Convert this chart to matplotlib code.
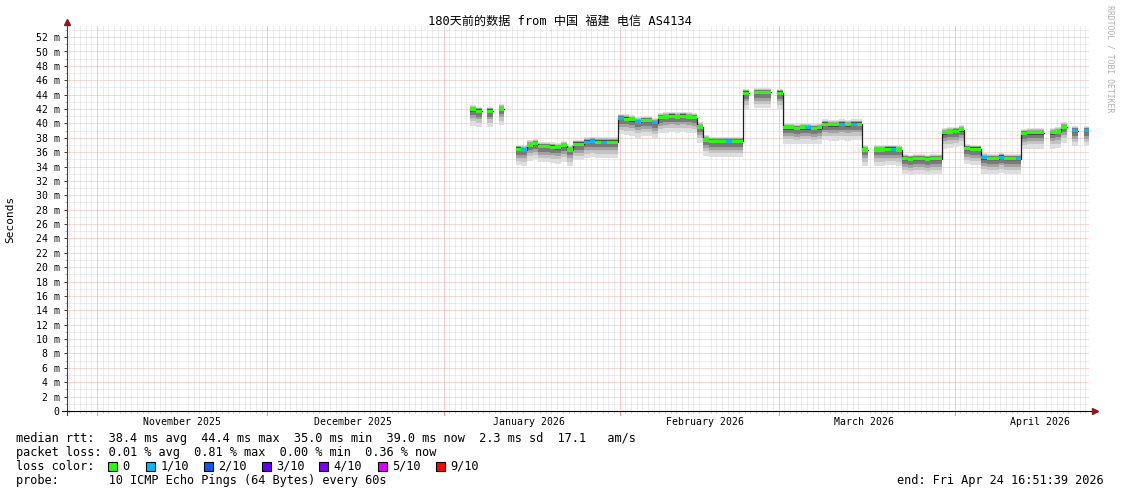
import datetime as dt
import numpy as np
import matplotlib
matplotlib.use('Agg')
import matplotlib.pyplot as plt
import matplotlib.dates as mdates
from matplotlib.ticker import MultipleLocator, FuncFormatter
from matplotlib.patches import Rectangle
from matplotlib.lines import Line2D

W, H = 1121, 494
MONO = 'DejaVu Sans Mono'

title = '180天前的数据 from 中国 福建 电信 AS4134'
start = dt.datetime(2025, 10, 26, 16, 51, 39)
end = dt.datetime(2026, 4, 24, 16, 51, 39)

# one median value per day, starting at day 71 after start (nan = no data)
first_day = 71
nan = np.nan
median_ms = [
    41.9, 41.7, nan, 41.7, nan, 42.0, nan, nan, 36.4, 36.3,   # d71-80
    37.0, 37.2, 36.8, 36.8, 36.7, 36.6, 36.9, 36.3, 37.1, 37.1,  # d81-90
    37.4, 37.5, 37.4, 37.4, 37.4, 37.4, 40.7, 40.6, 40.5, 40.2,  # d91-100
    40.4, 40.4, 40.1, 40.8, 40.9, 41.0, 40.9, 41.0, 40.9, 40.8,  # d101-110
    39.5, 37.7, 37.5, 37.5, 37.5, 37.5, 37.5, 37.5, 44.2, nan,   # d111-120
    44.3, 44.3, 44.3, nan, 44.2, 39.4, 39.4, 39.3, 39.4, 39.4,   # d121-130
    39.3, 39.4, 39.9, 39.8, 39.8, 39.9, 39.8, 39.9, 39.9, 36.3,  # d131-140
    nan, 36.3, 36.3, 36.4, 36.4, 36.3, 35.1, 35.0, 35.1, 35.1,   # d141-150
    35.0, 35.1, 35.1, 38.7, 38.8, 38.9, 39.1, 36.5, 36.4, 36.4,  # d151-160
    35.2, 35.1, 35.1, 35.3, 35.1, 35.1, 35.1, 38.6, 38.7, 38.7,  # d161-170
    38.7, nan, 38.7, 38.8, 39.5, nan, 39.0, nan, 39.0,           # d171-179
]
# loss bin per day: 0 -> no loss, 1 -> 1/10
loss_bin = [
    0, 0, 0, 0, 0, 0, 0, 0, 0, 1,
    0, 0, 0, 0, 0, 0, 0, 0, 0, 0,
    1, 1, 0, 1, 0, 0, 1, 0, 0, 1,
    0, 0, 1, 0, 0, 0, 0, 0, 0, 0,
    0, 0, 0, 0, 0, 1, 0, 0, 0, 0,
    0, 0, 0, 0, 0, 0, 0, 0, 0, 1,
    0, 0, 0, 0, 0, 1, 0, 1, 0, 0,
    0, 0, 0, 0, 1, 0, 0, 0, 0, 0,
    0, 0, 0, 0, 0, 0, 0, 0, 0, 0,
    1, 0, 0, 1, 0, 0, 1, 0, 0, 0,
    0, 0, 0, 0, 0, 0, 1, 0, 1,
]
# sorted ping offsets from the median (ms), 10 pings
ping_offsets = [-2.2, -1.6, -1.15, -0.75, -0.25, 0.25, 0.3, 0.4, 0.5, 0.65]
smoke_grays = ['#dedede', '#c4c4c4', '#a2a2a2', '#7a7a7a', '#505050']

loss_labels = ['0', '1/10', '2/10', '3/10', '4/10', '5/10', '9/10']
loss_colors = ['#26ff00', '#00b8ff', '#0059ff', '#5e00ff', '#7e00ff', '#dd00ff', '#ff0000']

stats_line = 'median rtt:  38.4 ms avg  44.4 ms max  35.0 ms min  39.0 ms now  2.3 ms sd  17.1   am/s'
loss_line = 'packet loss: 0.01 % avg  0.81 % max  0.00 % min  0.36 % now'
probe_line = 'probe:       10 ICMP Echo Pings (64 Bytes) every 60s'
end_line = 'end: Fri Apr 24 16:51:39 2026'


def fx(x):
    return x / W


def fy(y):
    return 1 - y / H


fig = plt.figure(figsize=(W / 100, H / 100), dpi=100)
ax_left, ax_right, ax_top, ax_bot = 67, 67 + 180 * 5.68, 26.5, 411
ax = fig.add_axes([fx(ax_left), fy(ax_bot), (ax_right - ax_left) / W, (ax_bot - ax_top) / H])

med = np.array(median_ms, dtype=float)
loss = np.array(loss_bin)
t0 = mdates.date2num(start)
edges = t0 + np.arange(first_day, first_day + len(med) + 1)
xs = np.repeat(edges, 2)[1:-1]


def steps(v):
    return np.repeat(v, 2)


# smoke
n = len(ping_offsets)
for i in range(n // 2):
    lo = med + ping_offsets[i]
    hi = med + ping_offsets[n - 1 - i]
    ax.fill_between(xs, steps(lo), steps(hi), color=smoke_grays[i], lw=0, zorder=2)

ax.plot(xs, steps(med), color='#202020', lw=0.9, zorder=3)

sw = 0.22
for k, c in enumerate(loss_colors):
    mk = np.where(loss == k, med, np.nan)
    if np.all(np.isnan(mk)):
        continue
    ax.fill_between(xs, steps(mk - sw), steps(mk + sw), color=c, lw=0, zorder=4)

ax.set_xlim(t0, mdates.date2num(end))
ax.set_ylim(0, (ax_bot - ax_top) / 7.19)

# grids
ax.set_axisbelow(True)
ax.xaxis.set_minor_locator(mdates.DayLocator())
ax.xaxis.set_major_locator(mdates.MonthLocator(bymonthday=16))
ax.xaxis.set_major_formatter(mdates.DateFormatter('%B %Y'))
ax.yaxis.set_major_locator(MultipleLocator(2))
ax.yaxis.set_minor_locator(MultipleLocator(1))
ax.yaxis.set_major_formatter(FuncFormatter(lambda v, p: '0' if v == 0 else '%d m' % v))

dots = (0, (1, 1))
ax.grid(which='minor', color='#dadada', lw=0.72, ls=dots)
ax.yaxis.grid(which='major', color='#f5b0b0', lw=0.72, ls=dots)
ax.xaxis.grid(which='major', visible=False)
for m in mdates.MonthLocator().tick_values(start, end):
    ax.axvline(m, color='#f5b0b0', lw=0.72, ls=dots, zorder=0.6)
    ax.plot([m, m], [0, -0.5], color='#f09090', lw=0.72, clip_on=False)

ax.tick_params(axis='x', which='major', length=0, pad=4, labelsize=7.1)
ax.tick_params(axis='x', which='minor', length=1.5, color='#b0b0b0', width=0.5)
ax.tick_params(axis='y', which='major', length=2.2, pad=3, labelsize=7.1,
               color='#404040', width=0.72)
ax.tick_params(axis='y', which='minor', length=1.4, color='#909090', width=0.5)
for lab in ax.get_xticklabels() + ax.get_yticklabels():
    lab.set_family(MONO)

for s in ['top', 'right', 'left', 'bottom']:
    ax.spines[s].set_visible(False)

# axis lines with arrows
fig.add_artist(Line2D([fx(ax_left), fx(ax_left)], [fy(ax_bot + 4), fy(22)],
                      color='#404040', lw=0.8))
fig.add_artist(Line2D([fx(62), fx(1095)], [fy(ax_bot), fy(ax_bot)],
                      color='black', lw=0.8))
fig.add_artist(Line2D([fx(ax_left)], [fy(22)], marker='^', ms=4.5,
                      color='#8b1a1a', mec='#8b1a1a'))
fig.add_artist(Line2D([fx(1095)], [fy(ax_bot)], marker='>', ms=4.5,
                      color='#8b1a1a', mec='#8b1a1a'))

# texts
fig.text(fx(560), fy(21), title, ha='center', va='center', fontsize=8.7,
         family=[MONO, 'Noto Sans CJK SC'])
fig.text(fx(10), fy(219), 'Seconds', rotation=90, ha='center', va='center',
         fontsize=8, family=MONO)
fig.text(fx(1110), fy(5), 'RRDTOOL / TOBI OETIKER', rotation=270, ha='center',
         va='top', fontsize=5.9, family=MONO, color='#b0b0b0')

fs = 8.53
fig.text(fx(16), fy(438), stats_line, ha='left', va='center', fontsize=fs, family=MONO)
fig.text(fx(16), fy(452), loss_line, ha='left', va='center', fontsize=fs, family=MONO)
fig.text(fx(16), fy(466), 'loss color:', ha='left', va='center', fontsize=fs, family=MONO)
fig.text(fx(16), fy(480), probe_line, ha='left', va='center', fontsize=fs, family=MONO)
fig.text(fx(1104), fy(480), end_line, ha='right', va='center', fontsize=fs, family=MONO)

sq_x = [108, 146, 204, 262, 319, 377.5, 436]
for x, lab, c in zip(sq_x, loss_labels, loss_colors):
    fig.add_artist(Rectangle((fx(x), fy(470.5)), 9 / W, 9 / H, facecolor=c,
                             edgecolor='black', lw=0.8))
    fig.text(fx(x + 14.5), fy(466), lab, ha='left', va='center', fontsize=fs, family=MONO)

fig.savefig('out.png', dpi=100, facecolor='white')
